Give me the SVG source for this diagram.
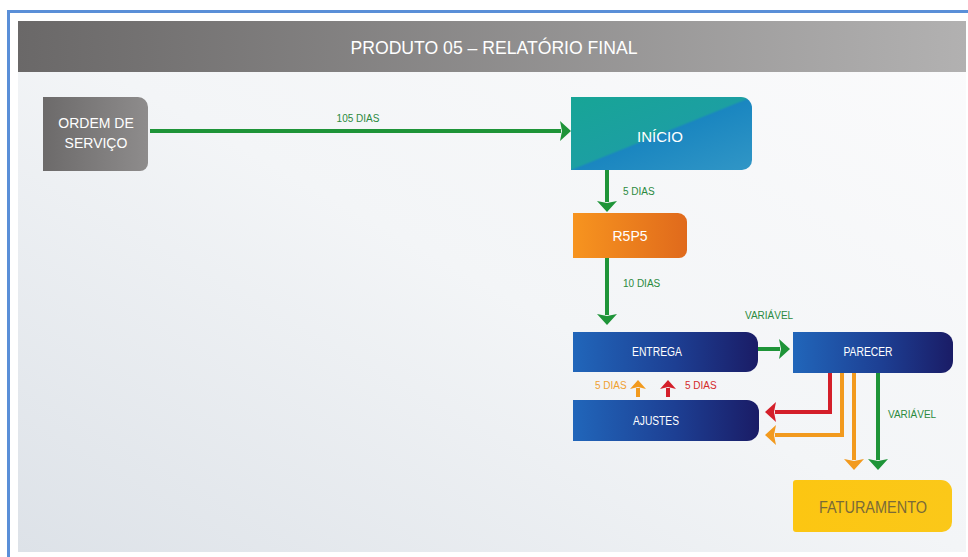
<svg xmlns="http://www.w3.org/2000/svg" width="968" height="557" viewBox="0 0 968 557">
<style>
  .nt { font-family: "Liberation Sans", Arial, sans-serif; fill: #ffffff; text-anchor: middle; }
  .lbl { font-family: "Liberation Sans", Arial, sans-serif; font-size: 10px; }
  .g { fill: #2b8a3e; }
  .o { fill: #f0a030; }
  .r { fill: #d42a2a; }
  .cg { stroke: #1e9438; stroke-width: 4; fill: none; }
  .cr { stroke: #d41f2a; stroke-width: 4; fill: none; }
  .co { stroke: #f29a1e; stroke-width: 4; fill: none; }
</style>
<defs>
  <linearGradient id="bodyBg" x1="0" y1="1" x2="1" y2="0">
    <stop offset="0" stop-color="#dde2e8"/>
    <stop offset="0.5" stop-color="#f3f5f7"/>
    <stop offset="1" stop-color="#fbfbfc"/>
  </linearGradient>
  <linearGradient id="hdr" x1="0" y1="0" x2="1" y2="0">
    <stop offset="0" stop-color="#6a6868"/>
    <stop offset="1" stop-color="#b2b1b1"/>
  </linearGradient>
  <linearGradient id="grayNode" x1="0" y1="0" x2="1" y2="0">
    <stop offset="0" stop-color="#6c6a6a"/>
    <stop offset="1" stop-color="#8e8c8c"/>
  </linearGradient>
  <linearGradient id="tealNode" x1="0" y1="0" x2="1" y2="1">
    <stop offset="0" stop-color="#17a596"/>
    <stop offset="0.49" stop-color="#1c9fa2"/>
    <stop offset="0.51" stop-color="#1a86c0"/>
    <stop offset="1" stop-color="#3196c6"/>
  </linearGradient>
  <linearGradient id="orangeNode" x1="0" y1="0" x2="1" y2="0">
    <stop offset="0" stop-color="#f7941f"/>
    <stop offset="1" stop-color="#e06a1c"/>
  </linearGradient>
  <linearGradient id="blueNode" x1="0" y1="0" x2="1" y2="0">
    <stop offset="0" stop-color="#2166ba"/>
    <stop offset="0.55" stop-color="#1d3f93"/>
    <stop offset="1" stop-color="#1a1c66"/>
  </linearGradient>
  <linearGradient id="yellowNode" x1="0" y1="0" x2="1" y2="0">
    <stop offset="0" stop-color="#fcc612"/>
    <stop offset="1" stop-color="#fbc819"/>
  </linearGradient>
  <marker id="ag" viewBox="0 0 11 20" refX="1" refY="10" markerWidth="11" markerHeight="20" markerUnits="userSpaceOnUse" orient="auto">
    <path d="M0,0 L11,10 L0,20 L2,10 Z" fill="#1e9438"/>
  </marker>
  <marker id="ar" viewBox="0 0 11 20" refX="1" refY="10" markerWidth="11" markerHeight="20" markerUnits="userSpaceOnUse" orient="auto">
    <path d="M0,0 L11,10 L0,20 L2,10 Z" fill="#d41f2a"/>
  </marker>
  <marker id="ao" viewBox="0 0 11 20" refX="1" refY="10" markerWidth="11" markerHeight="20" markerUnits="userSpaceOnUse" orient="auto">
    <path d="M0,0 L11,10 L0,20 L2,10 Z" fill="#f29a1e"/>
  </marker>
  <marker id="aos" viewBox="0 0 9 16" refX="1" refY="8" markerWidth="9" markerHeight="16" markerUnits="userSpaceOnUse" orient="auto">
    <path d="M0,0 L9,8 L0,16 L2,8 Z" fill="#f29a1e"/>
  </marker>
  <marker id="ars" viewBox="0 0 9 16" refX="1" refY="8" markerWidth="9" markerHeight="16" markerUnits="userSpaceOnUse" orient="auto">
    <path d="M0,0 L9,8 L0,16 L2,8 Z" fill="#d41f2a"/>
  </marker>
</defs>

<!-- page -->
<rect x="0" y="0" width="968" height="557" fill="#ffffff"/>
<rect x="18" y="21" width="948" height="531" fill="url(#bodyBg)"/>
<rect x="18" y="21" width="948" height="51" fill="url(#hdr)"/>
<text x="494" y="54" font-family="'Liberation Sans', Arial, sans-serif" font-size="19" fill="#ffffff" text-anchor="middle" textLength="287" lengthAdjust="spacingAndGlyphs">PRODUTO 05 – RELATÓRIO FINAL</text>
<rect x="7" y="10" width="961" height="3" fill="#5a8fd8"/>
<rect x="7" y="10" width="3" height="547" fill="#5a8fd8"/>

<g id="connectors">
  <path class="cg" d="M150,131 H561" marker-end="url(#ag)"/>
  <path class="cg" d="M607,170 V202" marker-end="url(#ag)"/>
  <path class="cg" d="M607,258 V315" marker-end="url(#ag)"/>
  <path class="cg" d="M758,349 H780" marker-end="url(#ag)"/>
  <path class="co" d="M638,397 V388" marker-end="url(#aos)"/>
  <path class="cr" d="M668,397 V388" marker-end="url(#ars)"/>
  <path class="cr" d="M830,373 V412 H775" marker-end="url(#ar)"/>
  <path class="co" d="M842,373 V435 H775" marker-end="url(#ao)"/>
  <path class="co" d="M854,373 V460" marker-end="url(#ao)"/>
  <path class="cg" d="M878,373 V460" marker-end="url(#ag)"/>
  <text class="lbl g" x="358" y="122" text-anchor="middle">105 DIAS</text>
  <text class="lbl g" x="623" y="195">5 DIAS</text>
  <text class="lbl g" x="623" y="287">10 DIAS</text>
  <text class="lbl g" x="745" y="319">VARIÁVEL</text>
  <text class="lbl o" x="595" y="389">5 DIAS</text>
  <text class="lbl r" x="685" y="389">5 DIAS</text>
  <text class="lbl g" x="888" y="418">VARIÁVEL</text>
</g>

<g id="ordem">
  <path d="M43,97 H138 A10,10 0 0 1 148,107 V163 A8,8 0 0 1 140,171 H43 Z" fill="url(#grayNode)"/>
  <text class="nt" x="96" y="128" font-size="14">ORDEM DE</text>
  <text class="nt" x="96" y="148" font-size="14">SERVIÇO</text>
</g>

<g id="inicio">
  <path d="M571,97 H741 A11,11 0 0 1 752,108 V160 A10,10 0 0 1 742,170 H571 Z" fill="url(#tealNode)"/>
  <text class="nt" x="660" y="142" font-size="15">INÍCIO</text>
</g>

<g id="r5p5">
  <path d="M573,213 H678 A9,9 0 0 1 687,222 V250 A8,8 0 0 1 679,258 H573 Z" fill="url(#orangeNode)"/>
  <text class="nt" x="630" y="241" font-size="14">R5P5</text>
</g>

<g id="entrega">
  <path d="M573,332 H746 A12,12 0 0 1 758,344 V360 A12,12 0 0 1 746,372 H573 Z" fill="url(#blueNode)"/>
  <text class="nt" x="657" y="356" font-size="12" textLength="50" lengthAdjust="spacingAndGlyphs">ENTREGA</text>
</g>

<g id="parecer">
  <path d="M793,332 H941 A12,12 0 0 1 953,344 V361 A12,12 0 0 1 941,373 H793 Z" fill="url(#blueNode)"/>
  <text class="nt" x="868" y="356" font-size="12" textLength="49" lengthAdjust="spacingAndGlyphs">PARECER</text>
</g>

<g id="ajustes">
  <path d="M573,400 H747 A12,12 0 0 1 759,412 V429 A12,12 0 0 1 747,441 H573 Z" fill="url(#blueNode)"/>
  <text class="nt" x="656" y="425" font-size="12" textLength="46" lengthAdjust="spacingAndGlyphs">AJUSTES</text>
</g>

<g id="faturamento">
  <path d="M796,480 H941 A11,11 0 0 1 952,491 V522 A10,10 0 0 1 942,532 H796 A3,3 0 0 1 793,529 V483 A3,3 0 0 1 796,480 Z" fill="url(#yellowNode)"/>
  <text x="873" y="513" font-family="'Liberation Sans', Arial, sans-serif" font-size="16" fill="#7a6a38" text-anchor="middle" textLength="108" lengthAdjust="spacingAndGlyphs">FATURAMENTO</text>
</g>
</svg>
